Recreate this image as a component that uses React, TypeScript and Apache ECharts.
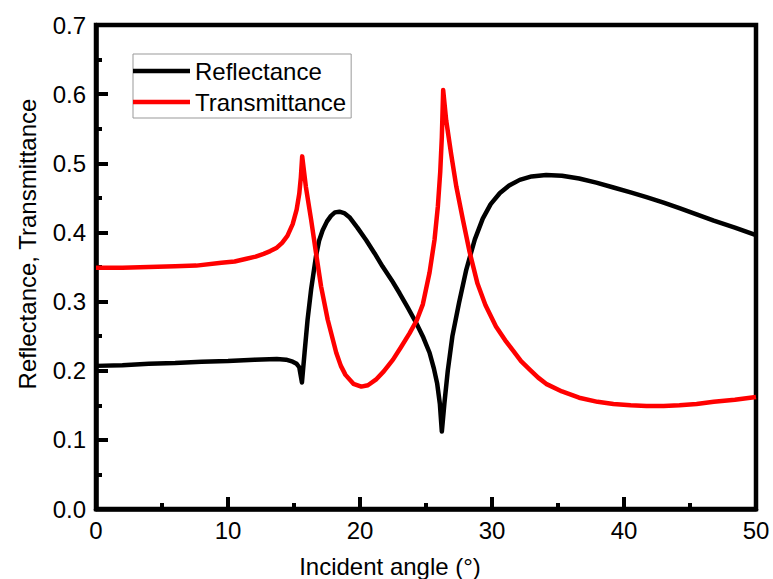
import React, { useEffect, useRef } from "react";
import * as echarts from "echarts";

const xTickValues = [0, 10, 20, 30, 40, 50];
const yTickValues = [0, 0.1, 0.2, 0.3, 0.4, 0.5, 0.6, 0.7];
const seriesNames = ["Reflectance", "Transmittance"];
const xAxisTitle = "Incident angle (°)";
const yAxisTitle = "Reflectance, Transmittance";

const reflectanceAngles = [
  0, 2, 4, 6, 8, 10, 12, 13.7, 14.4, 14.9, 15.2, 15.4, 15.6, 15.8, 16.03, 16.3, 16.67, 16.9, 17.17, 17.5,
  17.8, 18.1, 18.44, 18.8, 19.2, 19.8, 20.46, 21.1, 21.7, 22.4, 23.0, 23.6, 24.26, 24.8, 25.27, 25.6,
  25.85, 26.05, 26.2, 26.4, 26.65, 27.0, 27.5, 28.05, 28.7, 29.3, 29.9, 30.6, 31.3, 32.1, 33.0, 34.1,
  35.3, 36.6, 37.9, 39.2, 40.5, 41.7, 43.0, 44.2, 45.5, 46.8, 48.4, 50,
];
const reflectanceValues = [
  0.207, 0.208, 0.21, 0.211, 0.213, 0.214, 0.216, 0.217, 0.216, 0.213, 0.21, 0.205, 0.183, 0.226, 0.274,
  0.318, 0.366, 0.388, 0.403, 0.416, 0.424, 0.429, 0.43, 0.428, 0.422, 0.407, 0.389, 0.37, 0.351, 0.331,
  0.312, 0.292, 0.269, 0.248, 0.226, 0.203, 0.181, 0.152, 0.112, 0.154, 0.2, 0.25, 0.298, 0.346, 0.39,
  0.42, 0.441, 0.457, 0.468, 0.476, 0.481, 0.483, 0.482, 0.478, 0.472, 0.465, 0.458, 0.451, 0.443, 0.435,
  0.426, 0.417, 0.407, 0.396,
];

const transmittanceAngles = [
  0, 2, 4, 6, 7.6, 9.5, 10.5, 11.4, 12.1, 12.7, 13.2, 13.7, 14.1, 14.5, 14.9, 15.2, 15.4, 15.52, 15.62,
  15.9, 16.3, 16.67, 17.05, 17.55, 18.2, 18.55, 18.9, 19.5, 20.1, 20.6, 21.2, 21.8, 22.5, 23.1, 23.75,
  24.3, 24.76, 25.27, 25.65, 25.9, 26.08, 26.2, 26.3, 26.53, 26.9, 27.3, 27.8, 28.3, 28.9, 29.5, 30.3,
  31.0, 31.6, 32.2, 32.9, 33.5, 34.1, 35.3, 36.6, 38.0, 39.2, 40.5, 41.7, 43.0, 44.2, 45.5, 46.8, 48.4, 50,
];
const transmittanceValues = [
  0.349, 0.349, 0.35, 0.351, 0.352, 0.356, 0.358, 0.362, 0.365, 0.369, 0.373, 0.378, 0.385, 0.395, 0.412,
  0.433, 0.456, 0.48, 0.51, 0.466, 0.418, 0.37, 0.322, 0.274, 0.226, 0.207, 0.194, 0.181, 0.177, 0.179,
  0.187, 0.199, 0.216, 0.234, 0.254, 0.273, 0.296, 0.342, 0.39, 0.438, 0.488, 0.538, 0.606, 0.562, 0.514,
  0.466, 0.418, 0.372, 0.326, 0.295, 0.264, 0.244, 0.229, 0.214, 0.201, 0.19, 0.181, 0.17, 0.161, 0.155,
  0.152, 0.15, 0.149, 0.149, 0.15, 0.152, 0.155, 0.158, 0.162,
];

const FONT = "'Liberation Sans', Arial, Helvetica, sans-serif";

export default function App() {
  const ref = useRef<HTMLDivElement>(null);

  useEffect(() => {
    if (!ref.current) return;
    const chart = echarts.init(ref.current, undefined, { renderer: "svg" });
    const pair = (xs: number[], ys: number[]) => xs.map((x, i) => [x, ys[i]]);
    const axisCommon = {
      axisLine: { show: true, lineStyle: { color: "#000", width: 4.5 } },
      axisTick: { show: true, inside: true, length: 12, lineStyle: { color: "#000", width: 4 } },
      minorTick: { show: true, splitNumber: 2, length: 6, lineStyle: { color: "#000", width: 4 } },
      splitLine: { show: false },
      minorSplitLine: { show: false },
    };
    chart.setOption({
      animation: false,
      backgroundColor: "#fff",
      grid: {
        left: 96,
        right: 17,
        top: 25,
        bottom: 70,
        show: true,
        borderColor: "#000",
        borderWidth: 4.5,
        backgroundColor: "transparent",
      },
      xAxis: {
        type: "value",
        min: xTickValues[0],
        max: xTickValues[xTickValues.length - 1],
        interval: 10,
        ...axisCommon,
        axisLabel: {
          color: "#000",
          fontSize: 24,
          fontFamily: FONT,
          margin: 9,
          formatter: (v: number) => String(v),
        },
      },
      yAxis: {
        type: "value",
        min: yTickValues[0],
        max: yTickValues[yTickValues.length - 1],
        interval: 0.1,
        ...axisCommon,
        axisLabel: {
          color: "#000",
          fontSize: 24,
          fontFamily: FONT,
          margin: 10,
          formatter: (v: number) => v.toFixed(1),
        },
      },
      legend: {
        show: true,
        orient: "vertical",
        left: 133,
        top: 54,
        padding: [5, 5, 4, 0],
        icon: "rect",
        itemWidth: 57,
        itemHeight: 4.5,
        itemGap: 7,
        borderColor: "#999",
        borderWidth: 1,
        backgroundColor: "#fff",
        textStyle: { color: "#000", fontSize: 24, fontFamily: FONT, lineHeight: 24 },
        data: seriesNames,
      },
      graphic: [
        {
          type: "text",
          x: 390,
          y: 566,
          style: {
            text: xAxisTitle,
            font: `24px ${FONT}`,
            fill: "#000",
            textAlign: "center",
            textVerticalAlign: "middle",
          },
        },
        {
          type: "text",
          x: 27,
          y: 244,
          rotation: Math.PI / 2,
          style: {
            text: yAxisTitle,
            font: `24px ${FONT}`,
            fill: "#000",
            textAlign: "center",
            textVerticalAlign: "middle",
          },
        },
      ],
      series: [
        {
          name: seriesNames[0],
          type: "line",
          data: pair(reflectanceAngles, reflectanceValues),
          showSymbol: false,
          symbol: "none",
          smooth: false,
          lineStyle: { color: "#000", width: 4.5, join: "round" },
          itemStyle: { color: "#000" },
          z: 3,
        },
        {
          name: seriesNames[1],
          type: "line",
          data: pair(transmittanceAngles, transmittanceValues),
          showSymbol: false,
          symbol: "none",
          smooth: false,
          lineStyle: { color: "#ff0000", width: 4.5, join: "round" },
          itemStyle: { color: "#ff0000" },
          z: 4,
        },
      ],
    });
    return () => chart.dispose();
  }, []);

  return (
    <div
      ref={ref}
      style={{ position: "absolute", left: 0, top: 0, width: 773, height: 579, background: "#fff" }}
    />
  );
}
